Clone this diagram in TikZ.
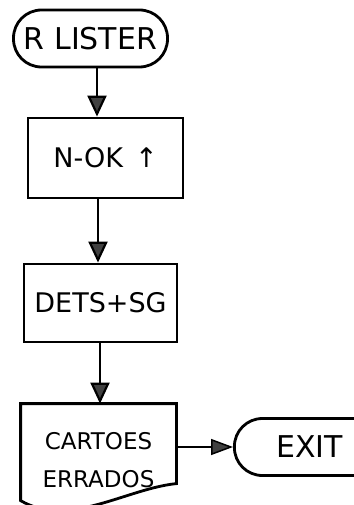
\documentclass[tikz,border=0pt]{standalone}
\usepackage{fontspec}
\setmainfont{DejaVu Sans}
\usetikzlibrary{calc,arrows.meta}

\begin{document}
\begin{tikzpicture}[x=1pt, y=-1pt, line width=2.8pt, % 画素単位、y軸は下向き
  box/.style={draw, minimum width=155pt, minimum height=80pt, font=\fontsize{27}{29}\selectfont},
  term/.style={draw, rounded corners=28pt, minimum height=57pt, font=\fontsize{30}{32}\selectfont},
  seta/.style={line width=2.2pt, -{Triangle[width=19pt, length=21pt, fill=black!75]}}]
  \useasboundingbox (0,0) rectangle (353,505); % 図の大きさ

  \node[term, minimum width=154pt] (rlister) at (90.5,38.5) {R LISTER}; % 開始
  \node[box] (nok) at (105.5,158) {N-OK\hspace{12pt}↑}; % 処理
  \node[box, minimum width=153pt, minimum height=78pt] (dets) at (100.5,303) {DETS+SG}; % 処理
  \node[minimum width=153pt, minimum height=110pt, align=center, font=\fontsize{23}{38}\selectfont] (cartoes) at (98.5,460) {CARTOES\\ERRADOS}; % 帳票
  \draw (cartoes.north west) -- (cartoes.north east) -- ($(cartoes.north east)+(0,80)$)
    .. controls +(-50,5) and +(48,28) .. ($(cartoes.north west)+(0,97)$) -- cycle; % 帳票の枠、下は波線
  \node[term, minimum width=150pt, anchor=west] (exit) at (233,447) {EXIT}; % 終了、右は切れる

  \draw[seta] ([xshift=6.5pt]rlister.south) -- ([xshift=-8.5pt]nok.north); % 矢印
  \draw[seta] ([xshift=-7.5pt]nok.south) -- ([xshift=-2.5pt]dets.north);
  \draw[seta] ([xshift=-0.5pt]dets.south) -- ([xshift=1.5pt]cartoes.north);
  \draw[seta, line width=1.5pt, -{Triangle[width=16pt, length=22pt, fill=black!75]}] (exit.west -| cartoes.east) -- (exit.west); % 横向き
\end{tikzpicture}
\end{document}
